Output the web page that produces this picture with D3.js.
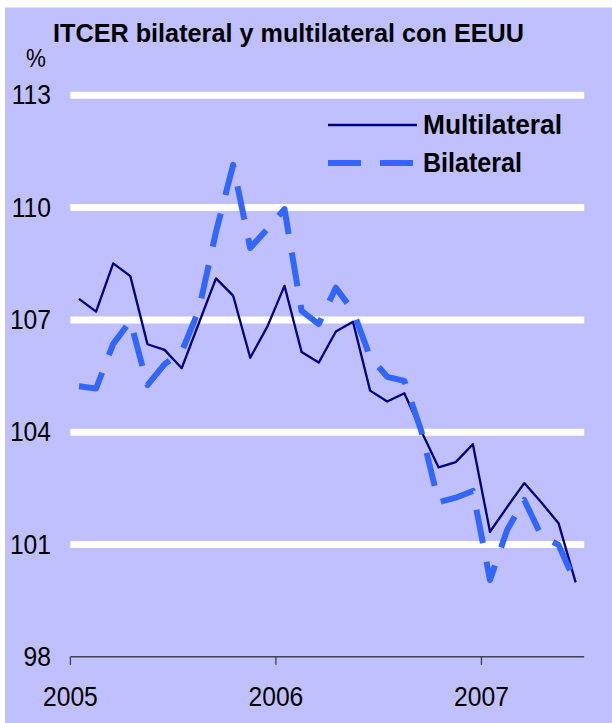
<!DOCTYPE html>
<html>
<head>
<meta charset="utf-8">
<script src="https://cdn.jsdelivr.net/npm/d3@7"></script>
<style>
  html, body { margin: 0; padding: 0; background: #ffffff; }
  svg { display: block; }
  text { font-family: "Liberation Sans", Arial, sans-serif; fill: #000; }
</style>
</head>
<body>
<svg id="chart" width="612" height="723"></svg>
<script>
// Monthly categories, Jan 2005 – Jun 2007
const months = [
  "2005-01","2005-02","2005-03","2005-04","2005-05","2005-06",
  "2005-07","2005-08","2005-09","2005-10","2005-11","2005-12",
  "2006-01","2006-02","2006-03","2006-04","2006-05","2006-06",
  "2006-07","2006-08","2006-09","2006-10","2006-11","2006-12",
  "2007-01","2007-02","2007-03","2007-04","2007-05","2007-06"
];

// ITCER multilateral
const multilateral = [
  107.56, 107.22, 108.51, 108.17, 106.35, 106.20,
  105.71, 106.91, 108.11, 107.65, 105.99, 106.82,
  107.91, 106.14, 105.86, 106.69, 106.95, 105.11,
  104.82, 105.04, 104.02, 103.06, 103.20, 103.68,
  101.34, 102.00, 102.64, 102.12, 101.57, 99.99
];

// ITCER bilateral con EEUU
const bilateral = [
  105.23, 105.17, 106.36, 106.97, 105.26, 105.82,
  106.15, 107.27, 109.35, 111.14, 108.92, 109.43,
  109.96, 107.24, 106.89, 107.86, 107.24, 106.01,
  105.48, 105.37, 104.01, 102.13, 102.25, 102.43,
  100.05, 101.39, 102.19, 101.23, 100.99, 99.98
];

const yTicks = [98, 101, 104, 107, 110, 113];
const years = ["2005", "2006", "2007"];

const title = "ITCER bilateral y multilateral con EEUU";
const unitLabel = "%";
const seriesNames = ["Multilateral", "Bilateral"];

const colors = { bg: "#c0c0ff", multi: "#000080", bi: "#3366ff", axis: "#404050" };

const svg = d3.select("#chart");

// Lavender chart area
svg.append("rect")
  .attr("x", 5).attr("y", 7.5)
  .attr("width", 607).attr("height", 716)
  .attr("fill", colors.bg);

const plot = { left: 70.4, right: 584.2, top: 95.3, bottom: 656.8 };

const x = d3.scaleBand().domain(months).range([plot.left, plot.right]).padding(0);
const xc = m => x(m) + x.bandwidth() / 2;
const y = d3.scaleLinear().domain([98, 113]).range([plot.bottom, plot.top]);

// Horizontal white gridlines
svg.append("g").selectAll("line")
  .data(yTicks.filter(t => t > 98))
  .join("line")
  .attr("x1", plot.left).attr("x2", plot.right)
  .attr("y1", d => y(d)).attr("y2", d => y(d))
  .attr("stroke", "#ffffff").attr("stroke-width", 7);

// Y tick labels (condensed Arial look)
svg.append("g").selectAll("text")
  .data(yTicks)
  .join("text")
  .attr("transform", d => `translate(51,${y(d) + 9}) scale(0.88,1)`)
  .attr("text-anchor", "end")
  .attr("font-size", 28)
  .text(d => d);

// Unit label
svg.append("text")
  .attr("transform", "translate(46,67) scale(0.86,1)")
  .attr("text-anchor", "end")
  .attr("font-size", 26)
  .text(unitLabel);

// X axis built with d3.axisBottom, ticks at the start of each year
const yearStart = years.map(yr => yr + "-01");
const xAxis = d3.axisBottom(x)
  .tickValues(yearStart)
  .tickSize(8)
  .tickFormat("");
const gx = svg.append("g")
  .attr("transform", `translate(0,${plot.bottom})`)
  .call(xAxis);
gx.select(".domain")
  .attr("d", `M${plot.left},0H${plot.right}`)
  .attr("stroke", colors.axis).attr("stroke-width", 1.5);
gx.selectAll(".tick")
  .attr("transform", d => `translate(${x(d)},0)`);
gx.selectAll(".tick line")
  .attr("stroke", colors.axis).attr("stroke-width", 1.3);

// Year labels centred on the year ticks
svg.append("g").selectAll("text")
  .data(years)
  .join("text")
  .attr("transform", d => `translate(${x(d + "-01")},706) scale(0.88,1)`)
  .attr("text-anchor", "middle")
  .attr("font-size", 28)
  .text(d => d);

// Lines
const line = values => d3.line()
  .x((d, i) => xc(months[i]))
  .y(d => y(d))(values);

svg.append("path")
  .attr("d", line(multilateral))
  .attr("fill", "none")
  .attr("stroke", colors.multi)
  .attr("stroke-width", 2.3)
  .attr("stroke-linejoin", "round");

svg.append("path")
  .attr("d", line(bilateral))
  .attr("fill", "none")
  .attr("stroke", colors.bi)
  .attr("stroke-width", 6)
  .attr("stroke-dasharray", "34,19")
  .attr("stroke-linejoin", "round");

// Title
svg.append("text")
  .attr("x", 53).attr("y", 42)
  .attr("font-size", 25)
  .attr("font-weight", "bold")
  .attr("textLength", 471)
  .attr("lengthAdjust", "spacingAndGlyphs")
  .text(title);

// Legend
const legend = svg.append("g");
legend.append("line")
  .attr("x1", 328).attr("x2", 417)
  .attr("y1", 125).attr("y2", 125)
  .attr("stroke", colors.multi).attr("stroke-width", 2.3);
legend.append("line")
  .attr("x1", 328).attr("x2", 413)
  .attr("y1", 163).attr("y2", 163)
  .attr("stroke", colors.bi).attr("stroke-width", 6)
  .attr("stroke-dasharray", "33,19");
legend.append("text")
  .attr("x", 423).attr("y", 134)
  .attr("font-size", 27).attr("font-weight", "bold")
  .attr("textLength", 139).attr("lengthAdjust", "spacingAndGlyphs")
  .text(seriesNames[0]);
legend.append("text")
  .attr("x", 423).attr("y", 172)
  .attr("font-size", 27).attr("font-weight", "bold")
  .attr("textLength", 99).attr("lengthAdjust", "spacingAndGlyphs")
  .text(seriesNames[1]);
</script>
</body>
</html>
